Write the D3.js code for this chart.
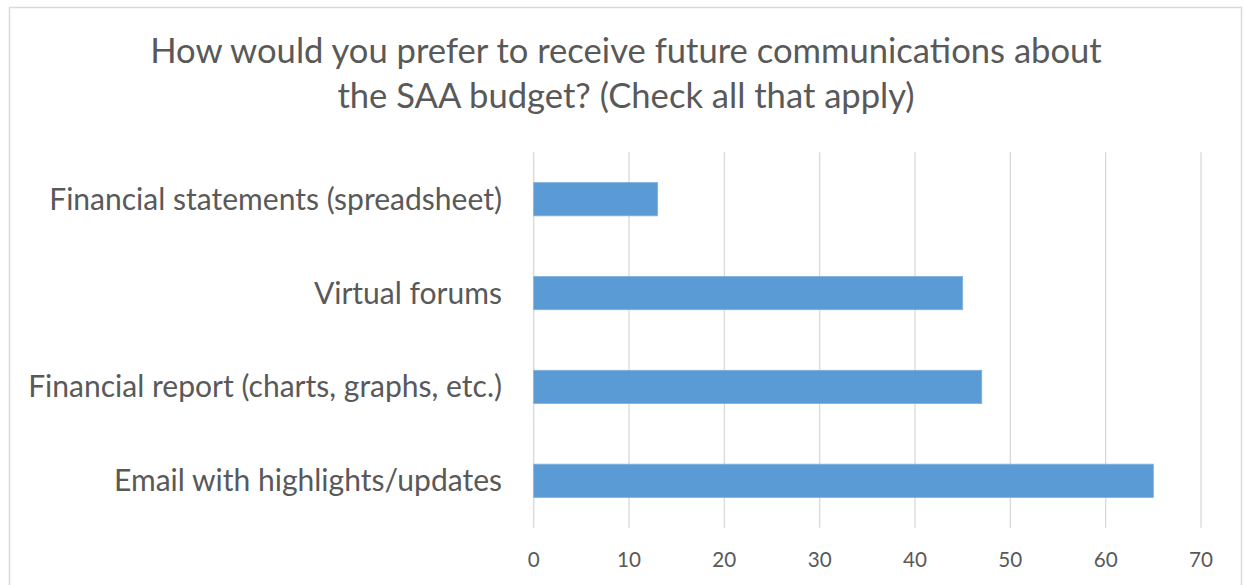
<!DOCTYPE html>
<html>
<head>
<meta charset="utf-8">
<script src="https://cdn.jsdelivr.net/npm/d3@7"></script>
<style>
  html, body { margin: 0; padding: 0; background: #fff; }
  svg { display: block; }
  text { font-family: Lato, "Open Sans", sans-serif; fill: #595959; }
</style>
</head>
<body>
<svg id="chart" width="1245" height="585"></svg>
<script>
const titleLines = ["How would you prefer to receive future communications about", "the SAA budget? (Check all that apply)"];
const categories = ["Financial statements (spreadsheet)", "Virtual forums", "Financial report (charts, graphs, etc.)", "Email with highlights/updates"];
const values = [13, 45, 47, 65];
const xTicks = [0, 10, 20, 30, 40, 50, 60, 70];

const svg = d3.select("#chart");

// chart border
svg.append("rect")
  .attr("x", 9.5).attr("y", 7.5)
  .attr("width", 1232).attr("height", 600)
  .attr("fill", "#fff").attr("stroke", "#D9D9D9").attr("stroke-width", 1.5);

const x = d3.scaleLinear().domain([0, 70]).range([533.7, 1201]);
const y = d3.scaleBand().domain(categories).range([152.3, 527.7])
  .paddingInner(0.646).paddingOuter(0.323);

function fitSize(sel, target, base) {
  sel.style("font-size", base + "px");
  const w = sel.node().getComputedTextLength();
  const s = base * target / w;
  sel.style("font-size", s + "px");
  return s;
}

// title
const t1 = svg.append("text").attr("x", 626).attr("y", 62.7).attr("text-anchor", "middle").text(titleLines[0]);
const ts = fitSize(t1, 952, 30);
svg.append("text").attr("x", 626).attr("y", 108.3).attr("text-anchor", "middle")
  .style("font-size", ts + "px").text(titleLines[1]);

// gridlines
svg.append("g").selectAll("line").data(xTicks).join("line")
  .attr("x1", d => x(d)).attr("x2", d => x(d))
  .attr("y1", 152.3).attr("y2", 527.7)
  .attr("stroke", "#D9D9D9").attr("stroke-width", 1.3);

// bars
svg.append("g").selectAll("rect").data(values).join("rect")
  .attr("x", x(0))
  .attr("y", (d, i) => y(categories[i]))
  .attr("width", d => x(d) - x(0))
  .attr("height", y.bandwidth())
  .attr("fill", "#5B9BD5")
  .attr("stroke", "#7EB0DE").attr("stroke-width", 0.8);

// category labels
const labels = svg.append("g").selectAll("text").data(categories).join("text")
  .attr("x", 502).attr("y", d => y(d) + y.bandwidth() / 2)
  .attr("dy", "0.35em").attr("text-anchor", "end").text(d => d);
const probe = labels.filter((d, i) => i === 0);
const ls = fitSize(probe, 453, 22);
labels.style("font-size", ls + "px");

// x tick labels
const ticks = svg.append("g").selectAll("text").data(xTicks).join("text")
  .attr("x", d => x(d)).attr("y", 559.5)
  .attr("dy", "0.35em").attr("text-anchor", "middle").text(d => d);
const tp = ticks.filter(d => d === 60);
const tks = fitSize(tp, 24, 18);
ticks.style("font-size", tks + "px");
</script>
</body>
</html>
